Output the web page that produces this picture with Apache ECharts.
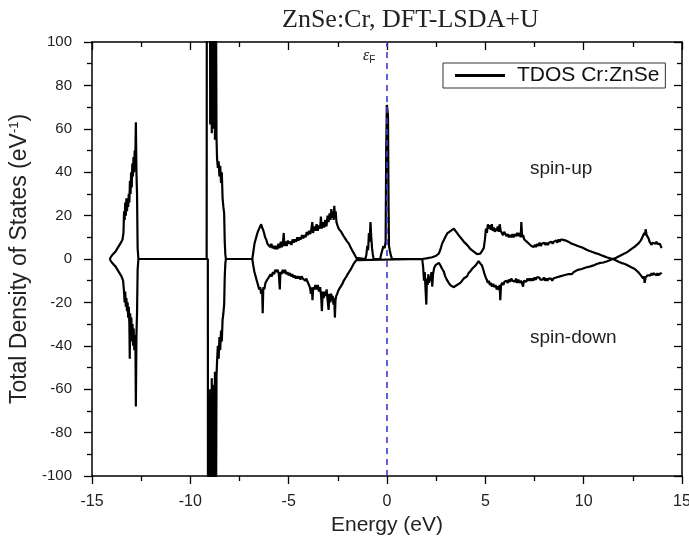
<!DOCTYPE html>
<html>
<head>
<meta charset="utf-8">
<script src="https://cdn.jsdelivr.net/npm/echarts@6/dist/echarts.min.js"></script>
<style>html,body{margin:0;padding:0;background:#fff}#c{width:689px;height:538px}</style>
</head>
<body>
<div id="c"></div>
<script>
// ---- data (Energy eV, DOS eV^-1) ----
var titleText = 'ZnSe:Cr, DFT-LSDA+U';
var seriesName = 'TDOS Cr:ZnSe';
var xTicks = [-15, -10, -5, 0, 5, 10, 15];
var yTicks = [-100, -80, -60, -40, -20, 0, 20, 40, 60, 80, 100];
var fermiEnergy = 0;

var spinUp = [
[-14.10,0],[-14.0,1.5],[-13.9,2.5],[-13.8,3.5],[-13.7,5],[-13.6,6.5],[-13.5,8],[-13.45,9],[-13.4,12],[-13.37,22],[-13.34,18],[-13.31,26],[-13.28,20],[-13.25,28],[-13.22,22],[-13.19,27],[-13.16,24],[-13.13,30],[-13.1,26],[-13.07,36],[-13.04,30],[-13.01,40],[-12.98,33],[-12.95,44],[-12.92,38],[-12.89,47],[-12.86,40],[-12.83,50],[-12.80,45],[-12.77,63],[-12.74,40],[-12.71,30],[-12.68,5],[-12.64,0],
[-9.17,0],[-9.16,165],[-9.0,165],[-8.99,62],[-8.97,150],[-8.95,75],[-8.93,160],[-8.91,58],[-8.89,140],[-8.87,80],[-8.85,170],[-8.83,60],[-8.81,130],[-8.79,72],[-8.77,150],[-8.75,55],[-8.73,120],[-8.71,65],[-8.69,110],[-8.67,56],[-8.64,46],[-8.6,42],[-8.56,45],[-8.52,38],[-8.48,43],[-8.44,35],[-8.4,40],[-8.36,28],[-8.32,24],[-8.28,21],[-8.25,8],[-8.22,2],[-8.19,0],
[-6.85,0],[-6.8,3],[-6.74,7],[-6.68,9],[-6.62,11],[-6.57,12.5],[-6.5,14],[-6.45,15],[-6.4,16],[-6.35,14.5],[-6.3,13.5],[-6.25,12],[-6.2,10],[-6.14,9],[-6.08,7],[-6.0,6.5],[-5.94,5.5],[-5.88,7],[-5.82,5],[-5.76,6],[-5.7,4.5],[-5.64,6],[-5.58,4.5],[-5.52,7],[-5.46,5],[-5.40,8],[-5.35,5.5],[-5.3,7],[-5.25,12],[-5.22,6],[-5.16,8],[-5.1,6],[-5.04,8.5],[-4.98,7],[-4.92,8],[-4.86,6.5],[-4.8,9],[-4.74,7.5],[-4.68,9],[-4.62,8],[-4.56,10],[-4.5,8.5],[-4.44,10],[-4.38,9],[-4.32,11],[-4.26,9.5],[-4.2,11],[-4.14,10],[-4.08,12.5],[-4.02,11],[-3.96,13],[-3.9,11.5],[-3.84,14],[-3.8,17],[-3.76,12],[-3.7,15],[-3.64,13],[-3.58,16],[-3.52,13],[-3.46,15.5],[-3.4,14],[-3.36,19.5],[-3.32,14],[-3.26,17],[-3.2,14.5],[-3.14,18],[-3.08,15],[-3.02,20],[-2.97,17],[-2.92,21],[-2.87,18],[-2.83,23],[-2.79,19],[-2.75,22],[-2.71,18],[-2.68,24.5],[-2.65,20],[-2.61,22],[-2.57,17],[-2.52,15.5],[-2.46,14],[-2.4,13.5],[-2.33,12.5],[-2.27,12],[-2.2,10.5],[-2.13,9.5],[-2.06,8.5],[-2.0,8],[-1.93,7],[-1.86,5.5],[-1.8,4.5],[-1.74,3.5],[-1.68,2.5],[-1.62,1.5],[-1.56,0.5],[-1.5,0],
[-1.1,0],[-1.05,2],[-1.0,6],[-0.96,4],[-0.92,12],[-0.88,8],[-0.84,17],[-0.8,10],[-0.76,5],[-0.72,2],[-0.68,0],
[-0.35,0],[-0.3,2],[-0.24,4],[-0.18,6],[-0.12,5],[-0.07,8],[-0.04,50],[-0.01,71],[0.02,69],[0.05,66],[0.08,25],[0.1,6],[0.14,4],[0.2,1.5],[0.26,0],
[1.79,0],[2.0,0.3],[2.3,0.8],[2.5,1.5],[2.64,2.6],[2.72,4.5],[2.8,7],[2.88,8.5],[2.96,10],[3.06,11.8],[3.15,12.5],[3.24,13],[3.32,13.5],[3.4,14],[3.48,13],[3.56,12],[3.64,11],[3.73,10.3],[3.82,9],[3.9,8],[3.98,7.2],[4.07,6.5],[4.16,5.5],[4.25,4.5],[4.33,3.8],[4.41,3.4],[4.5,2.8],[4.58,2.2],[4.66,1.8],[4.74,2.5],[4.82,3.5],[4.92,5],[4.98,9],[5.03,14],[5.08,12],[5.13,16],[5.18,14],[5.23,15.5],[5.28,13.5],[5.33,16],[5.38,13],[5.43,14.5],[5.48,12.5],[5.53,14],[5.58,13],[5.63,15],[5.68,12.5],[5.73,16],[5.78,13],[5.84,12.5],[5.9,11],[5.96,12.5],[6.02,11.5],[6.08,10.5],[6.14,11.5],[6.2,10],[6.26,11],[6.32,10],[6.38,11.5],[6.44,10],[6.5,11.5],[6.56,10.5],[6.62,12],[6.68,10.5],[6.74,12],[6.8,10],[6.83,17],[6.87,10],[6.92,11],[6.98,9],[7.04,9.5],[7.1,8],[7.16,8.5],[7.22,7],[7.28,7.5],[7.34,6],[7.4,6.5],[7.46,5.5],[7.52,6.5],[7.58,5.5],[7.64,7],[7.7,6],[7.76,7.5],[7.82,6],[7.88,7],[7.94,6.5],[8.0,7.5],[8.06,6.5],[8.12,7.5],[8.18,6.5],[8.24,7.5],[8.3,7],[8.36,8],[8.42,7],[8.48,8],[8.54,7.5],[8.6,8.5],[8.66,7.5],[8.72,9],[8.78,8],[8.84,9],[8.9,8.5],[8.96,8.8],[9.02,8],[9.1,8.5],[9.22,8],[9.35,7.2],[9.48,6.8],[9.56,6.5],[9.7,6],[9.85,5.5],[10.0,5],[10.15,4.3],[10.3,3.7],[10.45,3.2],[10.6,2.7],[10.75,2.3],[10.9,1.7],[11.05,1.2],[11.2,0.7],[11.35,0.3],[11.5,0],[11.65,0.6],[11.8,1.3],[11.95,2],[12.1,2.6],[12.25,3.4],[12.4,4.4],[12.5,5],[12.6,5.7],[12.7,6.5],[12.8,7.3],[12.9,8.5],[12.96,9.5],[13.03,10.3],[13.08,12],[13.12,11],[13.15,13.7],[13.2,11],[13.25,10.5],[13.3,9.5],[13.35,8],[13.4,7.5],[13.45,6.5],[13.5,7.5],[13.55,7],[13.6,8],[13.65,7],[13.7,8],[13.75,7],[13.8,6.5],[13.87,7],[13.92,6],[13.96,5]
];

var spinDown = [
[-14.10,0],[-14.0,-1.5],[-13.9,-2.5],[-13.8,-3.5],[-13.7,-5],[-13.6,-6.5],[-13.5,-8],[-13.42,-10],[-13.38,-14],[-13.34,-20],[-13.31,-15],[-13.28,-22],[-13.25,-18],[-13.22,-24],[-13.19,-20],[-13.16,-27],[-13.13,-22],[-13.1,-30],[-13.08,-46],[-13.06,-25],[-13.03,-33],[-13.0,-27],[-12.97,-38],[-12.94,-30],[-12.91,-40],[-12.88,-32],[-12.85,-42],[-12.82,-35],[-12.79,-40],[-12.77,-68],[-12.74,-35],[-12.71,-25],[-12.68,-5],[-12.64,0],
[-9.11,0],[-9.10,-165],[-9.0,-165],[-8.99,-60],[-8.97,-150],[-8.95,-72],[-8.93,-160],[-8.91,-55],[-8.89,-140],[-8.87,-78],[-8.85,-170],[-8.83,-58],[-8.81,-130],[-8.79,-70],[-8.77,-150],[-8.75,-52],[-8.73,-120],[-8.71,-62],[-8.69,-110],[-8.67,-54],[-8.64,-47],[-8.6,-40],[-8.56,-46],[-8.52,-36],[-8.48,-42],[-8.44,-33],[-8.4,-38],[-8.36,-28],[-8.32,-25],[-8.28,-21],[-8.25,-8],[-8.22,-2],[-8.19,0],
[-6.85,0],[-6.8,-3],[-6.74,-6],[-6.68,-8],[-6.62,-10],[-6.56,-12],[-6.5,-14],[-6.45,-13],[-6.4,-16],[-6.35,-14],[-6.32,-25],[-6.29,-13],[-6.24,-14],[-6.18,-11],[-6.12,-10],[-6.05,-9],[-5.98,-8],[-5.92,-7],[-5.86,-8],[-5.8,-6],[-5.74,-7],[-5.68,-5],[-5.62,-6],[-5.56,-5],[-5.5,-7],[-5.45,-14],[-5.42,-6],[-5.37,-7],[-5.3,-5],[-5.24,-6.5],[-5.18,-5],[-5.12,-7],[-5.06,-6],[-5.0,-7.5],[-4.94,-6.5],[-4.88,-8],[-4.82,-7],[-4.76,-8.5],[-4.7,-7.5],[-4.64,-9],[-4.58,-8],[-4.52,-9],[-4.46,-8],[-4.4,-9.5],[-4.34,-8],[-4.28,-9],[-4.22,-8.5],[-4.16,-10],[-4.1,-9],[-4.04,-10.5],[-3.98,-11],[-3.92,-13],[-3.87,-16],[-3.82,-13],[-3.79,-19],[-3.75,-13],[-3.7,-14],[-3.64,-12],[-3.58,-14],[-3.52,-12],[-3.46,-15],[-3.4,-13],[-3.35,-17],[-3.31,-24],[-3.27,-15],[-3.22,-18],[-3.17,-15],[-3.12,-17],[-3.07,-14],[-3.02,-19],[-2.97,-23.5],[-2.93,-16],[-2.88,-20],[-2.84,-16],[-2.8,-19],[-2.76,-17],[-2.72,-21],[-2.68,-18],[-2.65,-27],[-2.62,-19],[-2.58,-17],[-2.53,-16],[-2.47,-14.5],[-2.41,-13.5],[-2.34,-12.5],[-2.27,-11.5],[-2.2,-10],[-2.13,-9],[-2.06,-8],[-2.0,-7],[-1.93,-6],[-1.86,-5],[-1.8,-4],[-1.74,-3],[-1.68,-2],[-1.62,-1.2],[-1.56,-0.5],[-1.5,0],
[1.79,0],[1.84,-4],[1.88,-10],[1.92,-6],[1.96,-14],[2.0,-21],[2.03,-9],[2.07,-12],[2.1,-7],[2.14,-11],[2.18,-8],[2.22,-10],[2.26,-6],[2.3,-12.7],[2.34,-7],[2.4,-4],[2.47,-2.8],[2.55,-2],[2.64,-1.8],[2.72,-3],[2.8,-4.5],[2.89,-5.8],[2.96,-8],[3.04,-9.5],[3.14,-11],[3.22,-12],[3.3,-11.5],[3.38,-13],[3.48,-12.7],[3.56,-12],[3.64,-11.5],[3.73,-11],[3.82,-10],[3.9,-9],[3.98,-8.5],[4.07,-8],[4.15,-6.5],[4.25,-5.5],[4.33,-4.5],[4.41,-4],[4.5,-3],[4.58,-2],[4.66,-1],[4.74,-2],[4.83,-3],[4.9,-5],[4.96,-7],[5.02,-8.5],[5.08,-9.7],[5.13,-11],[5.18,-10],[5.23,-12],[5.28,-11],[5.34,-12.7],[5.4,-11.5],[5.46,-13],[5.52,-12],[5.58,-14],[5.64,-12.5],[5.68,-14.3],[5.73,-12],[5.76,-19],[5.8,-12],[5.86,-11],[5.92,-12],[5.97,-10.5],[6.02,-11],[6.08,-10],[6.14,-11],[6.2,-9.5],[6.26,-10.5],[6.32,-9],[6.38,-10],[6.43,-9.7],[6.5,-10.5],[6.56,-9],[6.62,-11],[6.68,-9.5],[6.74,-11],[6.8,-10],[6.86,-11],[6.92,-12.7],[6.96,-10],[7.02,-9.5],[7.08,-10.5],[7.14,-9],[7.2,-10],[7.26,-9],[7.32,-10],[7.38,-9],[7.44,-10],[7.5,-8.5],[7.56,-9.5],[7.62,-8.5],[7.68,-9],[7.74,-8.5],[7.8,-9.5],[7.86,-8.8],[7.92,-9.5],[7.98,-8.5],[8.04,-10],[8.1,-9],[8.16,-10],[8.22,-9],[8.28,-9.5],[8.34,-9],[8.4,-10],[8.46,-9],[8.52,-9.5],[8.6,-8.5],[8.7,-9],[8.8,-8],[8.89,-8],[9.0,-7.5],[9.1,-7.5],[9.2,-7],[9.3,-7.2],[9.39,-7],[9.5,-6],[9.6,-5.5],[9.7,-5],[9.8,-4.8],[9.9,-4.6],[10.0,-4.2],[10.15,-3.8],[10.3,-3.5],[10.4,-3.4],[10.55,-2.8],[10.7,-2.2],[10.85,-1.8],[11.0,-1.6],[11.08,-1.5],[11.2,-1],[11.35,-0.5],[11.5,0],[11.65,-0.7],[11.8,-1.4],[11.95,-1.9],[12.1,-2.3],[12.25,-3],[12.4,-3.7],[12.5,-4.2],[12.6,-4.6],[12.7,-5.4],[12.8,-6.3],[12.9,-7.2],[12.95,-8],[13.02,-9],[13.07,-8],[13.1,-11],[13.15,-8.5],[13.2,-9],[13.25,-7.5],[13.3,-8],[13.35,-7],[13.4,-7.5],[13.45,-6.5],[13.5,-7.5],[13.55,-6.5],[13.6,-7],[13.65,-6],[13.7,-7.5],[13.75,-6.5],[13.8,-7.5],[13.87,-8],[13.92,-6.5],[13.96,-7]
];

// ---- chart ----
var SANS = '"Liberation Sans", Arial, sans-serif';
var chart = echarts.init(document.getElementById('c'), null, {renderer: 'canvas'});
function xAx(pos, show) {
  return {
    type: 'value', position: pos, min: xTicks[0], max: xTicks[xTicks.length - 1], interval: 5,
    axisLine: {show: true, onZero: false, lineStyle: {color: '#000', width: 1.5}},
    axisTick: {show: true, inside: !show, length: 8, lineStyle: {color: '#000', width: 1.3}},
    minorTick: {show: true, splitNumber: 2, length: 5, lineStyle: {color: '#000', width: 1.3}},
    splitLine: {show: false},
    axisLabel: {show: show, color: '#222', fontSize: 16, fontFamily: SANS, margin: 18},
    name: show ? 'Energy (eV)' : '', nameLocation: 'middle', nameGap: 33,
    nameTextStyle: {fontSize: 21, fontFamily: SANS, color: '#222'}
  };
}
function yAx(pos, show) {
  return {
    type: 'value', position: pos, min: yTicks[0], max: yTicks[yTicks.length - 1], interval: 20,
    axisLine: {show: true, onZero: false, lineStyle: {color: '#000', width: 1.5}},
    axisTick: {show: true, inside: !show, length: 8, lineStyle: {color: '#000', width: 1.3}},
    minorTick: {show: true, splitNumber: 2, length: 5, lineStyle: {color: '#000', width: 1.3}},
    splitLine: {show: false},
    axisLabel: {show: show, color: '#222', fontSize: 15, fontFamily: SANS, margin: 20},
    name: show ? 'Total Density of States (eV{s|-1})' : '', nameLocation: 'middle', nameGap: 42,
    nameTextStyle: {fontSize: 23, fontFamily: SANS, color: '#222',
      rich: {s: {fontSize: 13, fontFamily: SANS, color: '#222', verticalAlign: 'top', padding: [0, 0, 10, 0]}}}
  };
}
var option = {
  animation: false,
  backgroundColor: '#fff',
  title: {text: titleText, left: 277, top: 2,
    textStyle: {fontFamily: '"Liberation Serif", "Times New Roman", serif', fontSize: 26, fontWeight: 'normal', color: '#222'}},
  grid: {left: 92, right: 7, top: 42, bottom: 62, containLabel: false, outerBoundsMode: 'none'},
  legend: {
    data: [{name: seriesName, icon: 'rect'}], left: 443, top: 63, orient: 'horizontal',
    borderColor: '#333', borderWidth: 1, padding: [2, 6, 2, 12],
    itemWidth: 50, itemHeight: 3, itemGap: 0,
    itemStyle: {color: '#000'},
    textStyle: {fontSize: 21, fontFamily: SANS, color: '#111', padding: [0, 0, 0, 7]}
  },
  xAxis: [xAx('bottom', true), xAx('top', false)],
  yAxis: [yAx('left', true), yAx('right', false)],
  series: [
    {name: seriesName, type: 'line', data: spinUp, symbol: 'none', xAxisIndex: 0, yAxisIndex: 0,
      lineStyle: {color: '#000', width: 2.2}, itemStyle: {color: '#000'}, clip: true, z: 2,
      markLine: {silent: true, symbol: ['none', 'none'], animation: false,
        label: {show: false}, lineStyle: {color: '#3a3ad8', type: [6, 5], width: 1.6},
        data: [{xAxis: fermiEnergy}]}
    },
    {name: seriesName, type: 'line', data: spinDown, symbol: 'none', xAxisIndex: 0, yAxisIndex: 0,
      lineStyle: {color: '#000', width: 2.2}, itemStyle: {color: '#000'}, clip: true, z: 2}
  ],
  graphic: [
    {type: 'text', left: 530, top: 159, z: 10,
      style: {text: 'spin-up', font: '19px "Liberation Sans", Arial, sans-serif', fill: '#222'}},
    {type: 'text', left: 530, top: 328, z: 10,
      style: {text: 'spin-down', font: '19px "Liberation Sans", Arial, sans-serif', fill: '#222'}},
    {type: 'text', left: 363, top: 48, z: 10,
      style: {text: '{e|ε}{f|F}', rich: {
        e: {fontSize: 16, fontStyle: 'italic', fontFamily: '"Liberation Serif", serif', fill: '#222'},
        f: {fontSize: 10, fontFamily: SANS, fill: '#222', padding: [8, 0, 0, 0]}}}}
  ]
};
chart.setOption(option);
</script>
</body>
</html>
